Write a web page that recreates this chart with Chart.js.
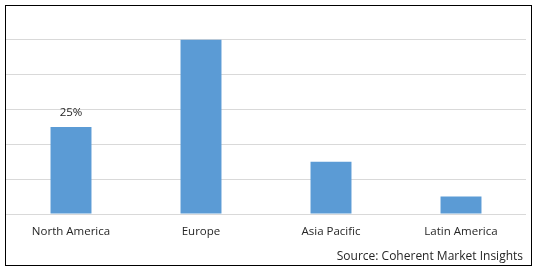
<!DOCTYPE html>
<html>
<head>
<meta charset="utf-8">
<script src="https://cdn.jsdelivr.net/npm/chart.js@4"></script>
<style>
  html, body { margin: 0; padding: 0; background: #fff; }
  #wrap { width: 538px; height: 272px; }
</style>
</head>
<body>
<div id="wrap"><canvas id="myChart" width="538" height="272"></canvas></div>
<script>
// region shares (%)
var regions = ['North America', 'Europe', 'Asia Pacific', 'Latin America'];
var shares = [25, 50, 15, 5];
var barLabels = ['25%', '', '', ''];
var sourceText = 'Source: Coherent Market Insights';

var FONT = '"Open Sans", sans-serif';
var TEXT = '#262626';

// draws the value label, source line and the outer frame
var extras = {
    id: 'extras',
    afterDatasetsDraw: function(chart) {
        var ctx = chart.ctx;
        var meta = chart.getDatasetMeta(0);
        ctx.save();
        ctx.font = '11.5px ' + FONT;
        ctx.fillStyle = TEXT;
        ctx.textAlign = 'center';
        ctx.textBaseline = 'middle';
        meta.data.forEach(function(bar, i) {
            if (barLabels[i]) {
                ctx.fillText(barLabels[i], bar.x, bar.y - 14);
            }
        });
        ctx.font = '12px ' + FONT;
        ctx.textAlign = 'right';
        ctx.fillText(sourceText, 523, 257);
        ctx.strokeStyle = '#000';
        ctx.lineWidth = 1;
        ctx.strokeRect(5.5, 5.5, 526, 260);
        ctx.restore();
    }
};

var ctx = document.getElementById('myChart').getContext('2d');
var chart = new Chart(ctx, {
    type: 'bar',
    data: {
        labels: regions,
        datasets: [{
            data: shares,
            backgroundColor: '#5b9bd5',
            borderWidth: 0,
            categoryPercentage: 1,
            barPercentage: 0.315
        }]
    },
    options: {
        responsive: false,
        animation: false,
        devicePixelRatio: 1,
        layout: { padding: { left: 6, right: 12, top: 5, bottom: 0 } },
        plugins: {
            legend: { display: false },
            tooltip: { enabled: false }
        },
        scales: {
            x: {
                grid: { display: false, drawTicks: false },
                border: { display: false },
                ticks: {
                    color: TEXT,
                    font: { family: FONT, size: 11.5 },
                    padding: 11,
                    maxRotation: 0
                },
                afterFit: function(scale) { scale.height = 58; }
            },
            y: {
                min: 0,
                max: 60,
                ticks: { display: false, stepSize: 10 },
                grid: { color: '#d9d9d9', drawTicks: false },
                border: { display: false },
                afterFit: function(scale) { scale.width = 0; }
            }
        }
    },
    plugins: [extras]
});
</script>
</body>
</html>
